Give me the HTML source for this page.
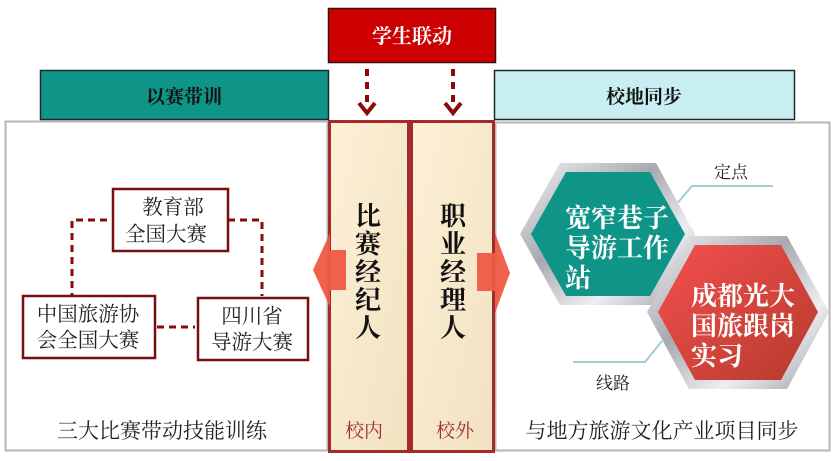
<!DOCTYPE html>
<html><head><meta charset="utf-8"><style>
html,body{margin:0;padding:0;background:#fff;}
svg{display:block;}
text{font-family:"Liberation Serif","Noto Serif CJK SC",serif;}
</style></head><body>
<svg width="837" height="461" viewBox="0 0 837 461" xmlns="http://www.w3.org/2000/svg">
<defs>
<linearGradient id="col" x1="0" y1="0" x2="1" y2="1">
<stop offset="0" stop-color="#fdf0d6"/><stop offset="1" stop-color="#f0e2c0"/></linearGradient>
<linearGradient id="silver" x1="0" y1="0" x2="1" y2="1">
<stop offset="0" stop-color="#f4f4f6"/><stop offset="0.4" stop-color="#a8a8b0"/><stop offset="0.7" stop-color="#eeeef2"/><stop offset="1" stop-color="#9a9aa2"/></linearGradient>
<linearGradient id="redg" x1="0" y1="0" x2="1" y2="1">
<stop offset="0" stop-color="#f4504e"/><stop offset="1" stop-color="#b53a2c"/></linearGradient>
</defs>
<rect x="5.5" y="121.5" width="322" height="329" fill="#fff" stroke="#b5b5b5" stroke-width="2"/>
<rect x="495.5" y="122.5" width="334" height="328" fill="#fff" stroke="#b5b5b5" stroke-width="2"/>
<rect x="40.5" y="70.5" width="288" height="49" fill="#0f9488" stroke="#1e2a2a" stroke-width="1.5"/>
<text x="184" y="103" font-size="19" font-weight="bold" text-anchor="middle" fill="#111">以赛带训</text>
<rect x="494.5" y="70.5" width="300" height="49" fill="#c8eef2" stroke="#1e2a2a" stroke-width="1.5"/>
<text x="644" y="103" font-size="19" font-weight="bold" text-anchor="middle" fill="#111">校地同步</text>
<rect x="328.5" y="8.5" width="167" height="54" fill="#cc0000" stroke="#3a1010" stroke-width="1.5"/>
<text x="412" y="43" font-size="20" font-weight="bold" text-anchor="middle" fill="#fff">学生联动</text>
<g stroke="#8b0a0a" stroke-width="4" stroke-dasharray="7,6">
<line x1="367" y1="69" x2="367" y2="106"/><line x1="453" y1="69" x2="453" y2="106"/></g>
<g fill="none" stroke="#8b0a0a" stroke-width="4">
<polyline points="359,103 367,113 375,103"/><polyline points="445,103 453,113 461,103"/></g>
<rect x="329.5" y="121.5" width="79" height="330" fill="url(#col)" stroke="#a52a2a" stroke-width="3"/>
<rect x="411.5" y="121.5" width="82" height="330" fill="url(#col)" stroke="#a52a2a" stroke-width="3"/>
<g fill="#ef5a45" opacity="0.95">
<polygon points="313,270 330,233 330,250 346,250 346,290 330,290 330,307"/>
<polygon points="510,273 495,233 495,253 477,253 477,291 495,291 495,313"/></g>
<g font-size="26" font-weight="bold" text-anchor="middle" fill="#111">
<text x="368" y="225">比</text><text x="368" y="253">赛</text><text x="368" y="281">经</text><text x="368" y="309">纪</text><text x="368" y="337">人</text>
<text x="453" y="225">职</text><text x="453" y="253">业</text><text x="453" y="281">经</text><text x="453" y="309">理</text><text x="453" y="337">人</text>
</g>
<text x="364" y="437" font-size="19" text-anchor="middle" fill="#a03030">校内</text>
<text x="455" y="437" font-size="19" text-anchor="middle" fill="#a03030">校外</text>
<g stroke="#8b0a0a" stroke-width="3" stroke-dasharray="7,5" fill="none">
<polyline points="107,220 72,220 72,296"/>
<polyline points="228,220 262,220 262,296"/>
<line x1="157" y1="327" x2="195" y2="327"/></g>
<g fill="#fff" stroke="#7a0e0e" stroke-width="2.5">
<rect x="113" y="189" width="115" height="62"/>
<rect x="23" y="296" width="132" height="62"/>
<rect x="198" y="298" width="110" height="62"/></g>
<g font-size="20.5" text-anchor="middle" fill="#222">
<text x="173" y="214">教育部</text><text x="166" y="241">全国大赛</text>
<text x="88" y="321">中国旅游协</text><text x="88" y="347">会全国大赛</text>
<text x="252" y="323">四川省</text><text x="252" y="349">导游大赛</text>
</g>
<g font-size="21" text-anchor="middle" fill="#222">
<text x="162" y="438">三大比赛带动技能训练</text>
<text x="662" y="438">与地方旅游文化产业项目同步</text>
</g>
<g stroke="#9fd0d2" stroke-width="2" fill="none">
<polyline points="773,186 692,186 674,207"/>
<polyline points="573,362 645,362 662,341"/></g>
<text x="731" y="178" font-size="17" text-anchor="middle" fill="#222">定点</text>
<text x="613" y="389" font-size="17" text-anchor="middle" fill="#222">线路</text>
<polygon points="560,163 656,163 695,234 656,305 560,305 520,234" fill="url(#silver)"/>
<polygon points="566,172 650,172 685,234 650,296 566,296 531,234" fill="#0f9488"/>
<g font-size="26" font-weight="bold" fill="#fff">
<text x="565" y="227">宽窄巷子</text><text x="565" y="257">导游工作</text><text x="565" y="287">站</text></g>
<polygon points="689,236 787,236 829,312 787,389 689,389 647,312" fill="url(#silver)"/>
<polygon points="695,245 781,245 818,312 781,380 695,380 658,312" fill="url(#redg)"/>
<g font-size="26" font-weight="bold" fill="#fff">
<text x="691" y="305">成都光大</text><text x="691" y="335">国旅跟岗</text><text x="691" y="365">实习</text></g>
</svg>
</body></html>
